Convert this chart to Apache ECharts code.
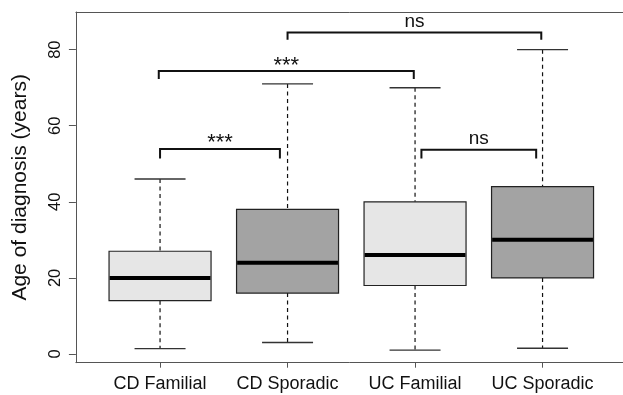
<!DOCTYPE html>
<html>
<head>
<meta charset="utf-8">
<script src="https://cdn.jsdelivr.net/npm/echarts@6/dist/echarts.min.js"></script>
<style>html,body{margin:0;padding:0;background:#fff}#c{width:623px;height:395px}</style>
</head>
<body>
<div id="c"></div>
<script>
// ---- data ----
const categories = ['CD Familial', 'CD Sporadic', 'UC Familial', 'UC Sporadic'];
const whiskerLow  = [1.4, 3, 1, 1.5];
const q1Values    = [14, 16, 18, 20];
const medians     = [20, 24, 26, 30];
const q3Values    = [27, 38, 40, 44];
const whiskerHigh = [46, 71, 70, 80];
const yTicks = [0, 20, 40, 60, 80];
// significance brackets
const bracketFrom  = [1, 0.99, 2, 3.05];
const bracketTo    = [1.94, 2.99, 3.99, 3.95];
const bracketTop   = [53.9, 74.4, 84.5, 53.7];
const bracketEnd   = [51.4, 72.3, 82.6, 51.4];
const bracketLabel = ['***', '***', 'ns', 'ns'];

// ---- styles ----
const FONT = '"Liberation Sans", Arial, sans-serif';
const boxFills = ['#e6e6e6', '#a3a3a3', '#e6e6e6', '#a3a3a3'];
const frameLine = { show: true, onZero: false, lineStyle: { color: '#555', width: 1 } };

const boxData = categories.map((c, i) => [i + 1, whiskerLow[i], q1Values[i], medians[i], q3Values[i], whiskerHigh[i]]);
const bracketData = bracketFrom.map((x, i) => [x, bracketTo[i], bracketTop[i], bracketEnd[i], i]);

function renderBox(params, api) {
  const x = api.value(0);
  const lo = api.value(1), q1 = api.value(2), md = api.value(3), q3 = api.value(4), hi = api.value(5);
  const xc = api.coord([x, 0])[0];
  const xl = api.coord([x - 0.4, 0])[0], xr = api.coord([x + 0.4, 0])[0];
  const cl = api.coord([x - 0.2, 0])[0], cr = api.coord([x + 0.2, 0])[0];
  const yLo = api.coord([x, lo])[1], yQ1 = api.coord([x, q1])[1], yMd = api.coord([x, md])[1];
  const yQ3 = api.coord([x, q3])[1], yHi = api.coord([x, hi])[1];
  const dash = { stroke: '#111', lineWidth: 1.2, lineDash: [4, 3.5] };
  const cap = { stroke: '#333', lineWidth: 1.4 };
  return {
    type: 'group',
    children: [
      { type: 'line', shape: { x1: xc, y1: yHi, x2: xc, y2: yQ3 }, style: dash },
      { type: 'line', shape: { x1: xc, y1: yQ1, x2: xc, y2: yLo }, style: dash },
      { type: 'line', shape: { x1: cl, y1: yHi, x2: cr, y2: yHi }, style: cap },
      { type: 'line', shape: { x1: cl, y1: yLo, x2: cr, y2: yLo }, style: cap },
      { type: 'rect', shape: { x: xl, y: yQ3, width: xr - xl, height: yQ1 - yQ3 },
        style: { fill: boxFills[params.dataIndex], stroke: '#222', lineWidth: 1.2 } },
      { type: 'line', shape: { x1: xl + 0.6, y1: yMd, x2: xr - 0.6, y2: yMd }, style: { stroke: '#000', lineWidth: 4 } }
    ]
  };
}

function renderBracket(params, api) {
  const x1 = api.value(0), x2 = api.value(1), yt = api.value(2), ye = api.value(3);
  const idx = params.dataIndex;
  const p1 = api.coord([x1, yt]), p2 = api.coord([x2, yt]);
  const e1 = api.coord([x1, ye]), e2 = api.coord([x2, ye]);
  const lbl = bracketLabel[idx];
  const isStar = lbl.indexOf('*') >= 0;
  return {
    type: 'group',
    children: [
      { type: 'polyline', shape: { points: [[e1[0], e1[1]], [p1[0], p1[1]], [p2[0], p2[1]], [e2[0], e2[1]]] },
        style: { stroke: '#111', lineWidth: 2, fill: null } },
      { type: 'text', x: (p1[0] + p2[0]) / 2, y: p1[1] + (isStar ? 5.5 : -1.5),
        style: { text: lbl, fill: '#111', font: (isStar ? '22px ' : '19px ') + FONT, align: 'center', verticalAlign: 'bottom' } }
    ]
  };
}

const chart = echarts.init(document.getElementById('c'), null, { renderer: 'canvas' });
chart.setOption({
  animation: false,
  backgroundColor: '#fff',
  grid: { left: 75.9, top: 12, width: 550.8, height: 350.7, show: false, outerBoundsMode: 'none', containLabel: false },
  xAxis: [{
    type: 'value', min: 0.34, max: 4.66, position: 'bottom',
    axisLine: frameLine,
    splitLine: { show: false },
    axisTick: { show: true, length: 5, lineStyle: { color: '#555' }, customValues: [1, 2, 3, 4] },
    axisLabel: {
      customValues: [1, 2, 3, 4], margin: 12,
      formatter: v => categories[Math.round(v) - 1] || '',
      fontFamily: FONT, fontSize: 18, color: '#111'
    }
  }, {
    type: 'value', min: 0.34, max: 4.66, position: 'top',
    axisLine: frameLine,
    splitLine: { show: false }, axisTick: { show: false }, axisLabel: { show: false }
  }],
  yAxis: {
    type: 'value', min: -2.3, max: 89.9, position: 'left',
    name: 'Age of diagnosis (years)', nameLocation: 'middle', nameGap: 45, nameRotate: 90,
    nameTextStyle: { fontFamily: FONT, fontSize: 21, color: '#111' },
    axisLine: frameLine,
    splitLine: { show: false },
    axisTick: { show: true, length: 7, lineStyle: { color: '#555' }, customValues: yTicks },
    axisLabel: { customValues: yTicks, rotate: 90, margin: 12, fontFamily: FONT, fontSize: 16.5, color: '#111' }
  },
  series: [
    { type: 'custom', renderItem: renderBox, data: boxData, xAxisIndex: 0, encode: { x: 0, y: [1, 5] }, clip: false, z: 3 },
    { type: 'custom', renderItem: renderBracket, data: bracketData, xAxisIndex: 0, encode: { x: [0, 1], y: [2, 3] }, clip: false, z: 4 }
  ]
});
</script>
</body>
</html>
